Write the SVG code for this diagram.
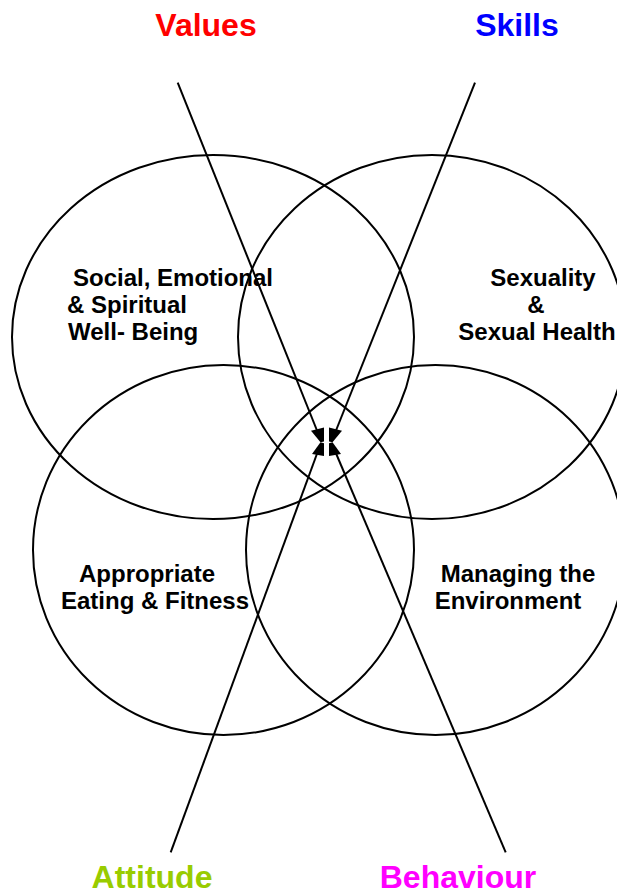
<svg xmlns="http://www.w3.org/2000/svg" width="617" height="896" viewBox="0 0 617 896">
  <style>
    .ring { fill: none; stroke: #000; stroke-width: 2; }
    .axis { stroke: #000; stroke-width: 2; fill: none; }
    .head { fill: #000; stroke: none; }
    .title { font-family: "Liberation Sans", Arial, sans-serif; font-weight: bold; font-size: 32px; text-anchor: middle; }
    .label { font-family: "Liberation Sans", Arial, sans-serif; font-weight: bold; font-size: 24px; fill: #000; }
  </style>
  <rect width="617" height="896" fill="#fff"/>

  <!-- four overlapping health areas -->
  <g id="social-emotional">
    <ellipse class="ring" cx="213" cy="337" rx="201" ry="182"/>
    <text class="label" x="73" y="286">Social, Emotional</text>
    <text class="label" x="67" y="313">&amp; Spiritual</text>
    <text class="label" x="68" y="340">Well- Being</text>
  </g>
  <g id="sexuality">
    <ellipse class="ring" cx="432" cy="337" rx="194" ry="182"/>
    <text class="label" x="543" y="286" text-anchor="middle">Sexuality</text>
    <text class="label" x="536" y="313" text-anchor="middle">&amp;</text>
    <text class="label" x="537" y="340" text-anchor="middle">Sexual Health</text>
  </g>
  <g id="eating-fitness">
    <ellipse class="ring" cx="223.5" cy="550" rx="190.5" ry="185"/>
    <text class="label" x="147" y="582" text-anchor="middle">Appropriate</text>
    <text class="label" x="155" y="609" text-anchor="middle">Eating &amp; Fitness</text>
  </g>
  <g id="environment">
    <ellipse class="ring" cx="435.5" cy="550" rx="189.5" ry="185"/>
    <text class="label" x="518" y="582" text-anchor="middle">Managing the</text>
    <text class="label" x="508" y="609" text-anchor="middle">Environment</text>
  </g>

  <!-- corner themes -->
  <g id="values"><text class="title" x="206" y="36" fill="#FF0000">Values</text></g>
  <g id="skills"><text class="title" x="517" y="36" fill="#0000FF">Skills</text></g>
  <g id="attitude"><text class="title" x="152" y="888" fill="#99CC00">Attitude</text></g>
  <g id="behaviour"><text class="title" x="458" y="888" fill="#FF00FF">Behaviour</text></g>

  <!-- connectors converging on the centre -->
  <g id="connectors">
    <line class="axis" x1="177.7" y1="82.7" x2="318" y2="433"/>
    <line class="axis" x1="475" y1="82.7" x2="335" y2="433"/>
    <line class="axis" x1="170.7" y1="852.3" x2="318" y2="451"/>
    <line class="axis" x1="505.7" y1="852.3" x2="335" y2="451"/>
    <polygon class="head" points="311,430.7 324,427.5 324,441.5 320.5,442.3"/>
    <polygon class="head" points="342,430.7 329,427.5 329,441.5 332.5,442.3"/>
    <polygon class="head" points="312,454 324,456 324,443.2 320.5,442.3"/>
    <polygon class="head" points="341,454 329,456 329,443.2 332.5,442.3"/>
  </g>
</svg>
